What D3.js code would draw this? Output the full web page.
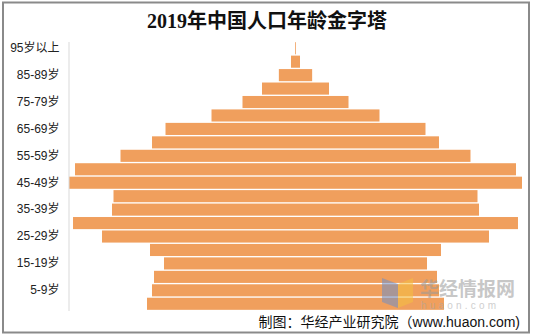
<!DOCTYPE html>
<html>
<head>
<meta charset="utf-8">
<script src="https://cdn.jsdelivr.net/npm/d3@7"></script>
<style>
	body { margin: 0; background: #fff; }
	svg { display: block; }
	.y-axis text { font-family: "Liberation Sans", Arial, "Noto Sans CJK SC", sans-serif; font-size: 12px; fill: #222; }
</style>
</head>
<body>
<div id="chart"></div>
<script>

// age groups from oldest (top) to youngest (bottom)
var ages = ['95岁以上', '90-94岁', '85-89岁', '80-84岁', '75-79岁', '70-74岁', '65-69岁', '60-64岁',
	'55-59岁', '50-54岁', '45-49岁', '40-44岁', '35-39岁', '30-34岁', '25-29岁', '20-24岁',
	'15-19岁', '10-14岁', '5-9岁', '0-4岁'];

// population, 万人
var population = [20, 244, 903, 1817, 2875, 4556, 7051, 7783,
	9492, 11960, 12285, 9872, 9953, 12068, 10495, 7892,
	7133, 7675, 7784, 8055];

// labels that are printed on the axis
var shownLabels = ['95岁以上', '85-89岁', '75-79岁', '65-69岁', '55-59岁',
	'45-49岁', '35-39岁', '25-29岁', '15-19岁', '5-9岁'];

var chart = {
	width: 536,
	height: 335,
	center: 295.5,
	top: 41.5,
	bottom: 310.5,
	axisX: 68.5,
	color: '#F09F5D'
};

var data = ages.map(function (a, i) {
	return { age: a, value: population[i] };
});

var svg = d3.select('#chart')
	.append('svg')
	.attr('width', chart.width)
	.attr('height', chart.height);

// outer frame
svg.append('rect')
	.attr('x', 3)
	.attr('y', 2.5)
	.attr('width', 526)
	.attr('height', 330)
	.attr('fill', '#fff')
	.attr('stroke', '#8a8a8a')
	.attr('stroke-width', 2);

svg.append('text')
	.attr('x', 267)
	.attr('y', 28)
	.attr('text-anchor', 'middle')
	.style('font-family', '"Liberation Serif", "Times New Roman", "Noto Sans CJK SC", serif')
	.style('font-weight', 'bold')
	.style('font-size', '20px')
	.style('fill', '#111')
	.text('2019年中国人口年龄金字塔');

var yScale = d3.scaleBand()
	.domain(ages)
	.range([chart.top, chart.bottom])
	.paddingInner(0.1)
	.paddingOuter(0.05);

// symmetric scale: each bar runs from -v/2 to +v/2 around the centre
var xScale = d3.scaleLinear()
	.domain([-7000, 7000])
	.range([chart.center - 258.1, chart.center + 258.1]);

svg.append('g')
	.attr('class', 'bars')
	.selectAll('rect')
	.data(data)
	.enter()
	.append('rect')
	.attr('x', function (d) { return xScale(-d.value / 2); })
	.attr('y', function (d) { return yScale(d.age); })
	.attr('width', function (d) { return Math.max(0.8, xScale(d.value / 2) - xScale(-d.value / 2)); })
	.attr('height', yScale.bandwidth())
	.attr('fill', chart.color);

var yAxis = d3.axisLeft(yScale)
	.tickSize(0)
	.tickPadding(9)
	.tickFormat(function (d) { return shownLabels.indexOf(d) >= 0 ? d : ''; });

var axisG = svg.append('g')
	.attr('class', 'y-axis')
	.attr('transform', 'translate(' + chart.axisX + ',0)')
	.call(yAxis);

axisG.select('.domain')
	.attr('stroke', '#d9d9d9')
	.attr('stroke-width', 1);

// watermark
var wm = svg.append('g').attr('opacity', 0.55);
wm.append('path')
	.attr('d', 'M382,278 L398,284 L398,308 L382,302 Z')
	.attr('fill', '#6f8fc8');
wm.append('path')
	.attr('d', 'M398,284 L413,278 L413,302 L398,308 Z')
	.attr('fill', '#f5c040');
wm.append('text')
	.attr('x', 420)
	.attr('y', 296)
	.style('font-family', '"Noto Sans CJK SC", sans-serif')
	.style('font-weight', 'bold')
	.style('font-size', '19px')
	.style('fill', '#9a9a9a')
	.text('华经情报网');
wm.append('text')
	.attr('x', 421)
	.attr('y', 309)
	.style('font-family', '"Liberation Sans", Arial, sans-serif')
	.style('font-size', '10px')
	.style('letter-spacing', '3.2px')
	.style('fill', '#a8a8a8')
	.text('huaon.com');

svg.append('text')
	.attr('x', 520)
	.attr('y', 327)
	.attr('text-anchor', 'end')
	.style('font-family', '"Liberation Sans", Arial, "Noto Sans CJK SC", sans-serif')
	.style('font-size', '14px')
	.style('fill', '#111')
	.text('制图：华经产业研究院（www.huaon.com)');

</script>
</body>
</html>
